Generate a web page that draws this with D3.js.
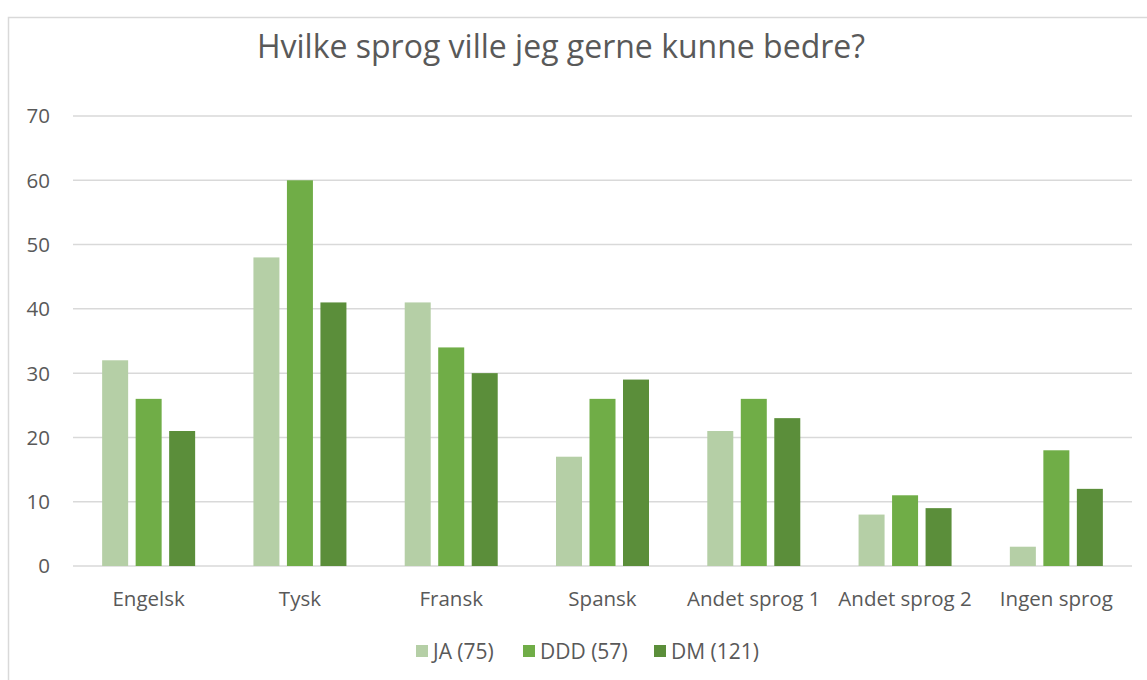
<!DOCTYPE html>
<html>
<head>
<meta charset="utf-8">
<script src="https://cdn.jsdelivr.net/npm/d3@7"></script>
<style>
  body { margin: 0; background: #fff; }
  svg text { font-family: "Open Sans", sans-serif; fill: #595959; }
</style>
</head>
<body>
<svg id="mainsvg" width="1147" height="680"></svg>
<script>
// chart data
var categories = ["Engelsk", "Tysk", "Fransk", "Spansk", "Andet sprog 1", "Andet sprog 2", "Ingen sprog"];
var seriesNames = ["JA (75)", "DDD (57)", "DM (121)"];
var jaValues  = [32, 48, 41, 17, 21, 8, 3];
var dddValues = [26, 60, 34, 26, 26, 11, 18];
var dmValues  = [21, 41, 30, 29, 23, 9, 12];
var yTicks = [0, 10, 20, 30, 40, 50, 60, 70];

var colors = ["#b5cfa6", "#70ad47", "#5b8e3a"];
var series = [jaValues, dddValues, dmValues];

var svg = d3.select("#mainsvg");

// outer chart border
svg.append("rect")
    .attr("x", 8.5).attr("y", 17.5)
    .attr("width", 1160).attr("height", 700)
    .attr("fill", "none")
    .attr("stroke", "#d9d9d9")
    .attr("stroke-width", 1.5);

var plotL = 73, plotR = 1132, plotT = 116, plotB = 566;

var x = d3.scaleBand().domain(categories).range([plotL, plotR]);
var y = d3.scaleLinear().domain([0, 70]).range([plotB, plotT]);

var barW = 26, gap = 7.5;

// gridlines
svg.append("g").selectAll("line")
    .data(yTicks)
    .enter().append("line")
    .attr("x1", plotL).attr("x2", plotR)
    .attr("y1", function(d){ return y(d); })
    .attr("y2", function(d){ return y(d); })
    .attr("stroke", "#d9d9d9")
    .attr("stroke-width", 1.5);

// y tick labels
svg.append("g").selectAll("text")
    .data(yTicks)
    .enter().append("text")
    .attr("x", 50)
    .attr("y", function(d){ return y(d); })
    .attr("dy", "0.36em")
    .attr("text-anchor", "end")
    .style("font-size", "20.5px")
    .text(function(d){ return d; });

// bars
series.forEach(function(vals, s){
    svg.append("g").selectAll("rect")
        .data(vals)
        .enter().append("rect")
        .attr("x", function(d, i){
            var c = x(categories[i]) + x.bandwidth() / 2;
            return c - 1.5 * barW - gap + s * (barW + gap);
        })
        .attr("y", function(d){ return y(d); })
        .attr("width", barW)
        .attr("height", function(d){ return plotB - y(d); })
        .attr("fill", colors[s]);
});

// category labels
svg.append("g").selectAll("text")
    .data(categories)
    .enter().append("text")
    .attr("x", function(d){ return x(d) + x.bandwidth() / 2; })
    .attr("y", 606)
    .attr("text-anchor", "middle")
    .style("font-size", "20.5px")
    .text(function(d){ return d; });

// title
svg.append("text")
    .attr("x", 561)
    .attr("y", 58)
    .attr("text-anchor", "middle")
    .style("font-size", "32px")
    .text("Hvilke sprog ville jeg gerne kunne bedre?");

// legend
var legendX = [416, 523, 654];
var legend = svg.append("g").selectAll("g")
    .data(seriesNames)
    .enter().append("g")
    .attr("transform", function(d, i){ return "translate(" + legendX[i] + ",645)"; });
legend.append("rect")
    .attr("width", 12).attr("height", 12)
    .attr("fill", function(d, i){ return colors[i]; });
legend.append("text")
    .attr("x", 17).attr("y", 6)
    .attr("dy", "0.36em")
    .style("font-size", "21px")
    .text(function(d){ return d; });
</script>
</body>
</html>
